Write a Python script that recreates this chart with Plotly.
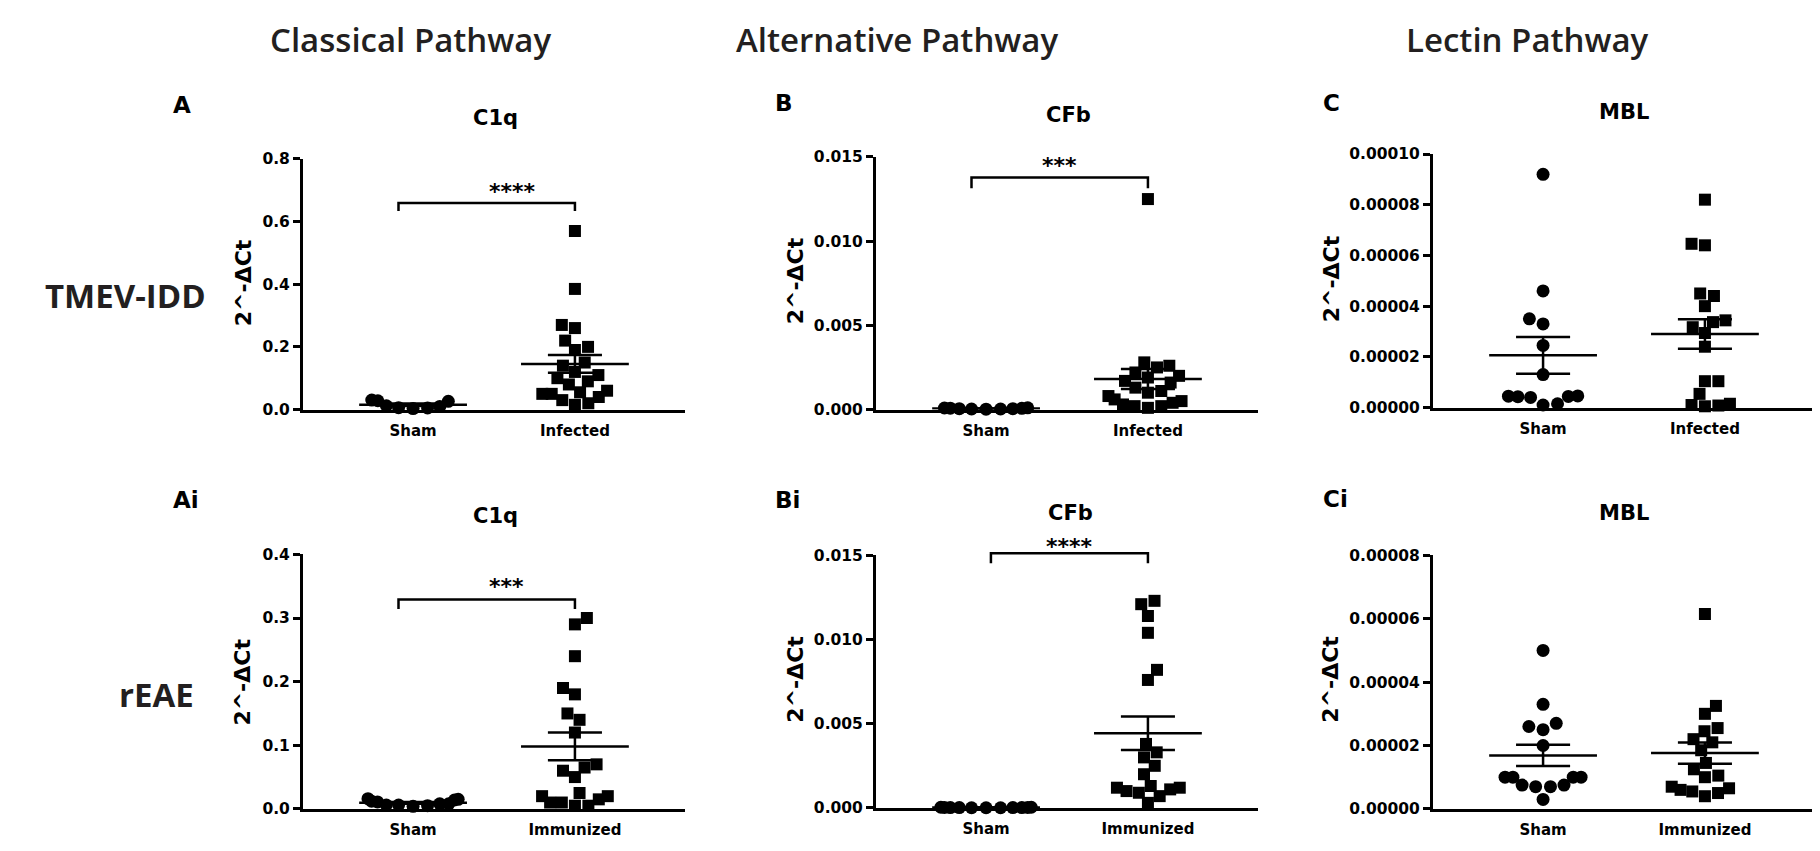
import numpy as np
import plotly.graph_objects as go

# values (2^-dCt)
groups_tmev = ["Sham", "Infected"]
groups_reae = ["Sham", "Immunized"]

c1q_tmev_sham = [0.030, 0.026, 0.012, 0.006, 0.003, 0.005, 0.010, 0.028]
c1q_tmev_inf = [0.57, 0.385, 0.27, 0.26, 0.22, 0.20, 0.19, 0.15, 0.14, 0.12, 0.11,
                0.10, 0.09, 0.08, 0.06, 0.055, 0.05, 0.05, 0.04, 0.03, 0.02, 0.015]

cfb_tmev_sham = [0.00010, 0.00008, 0.00005, 0.00003, 0.00002, 0.00003, 0.00005, 0.00007, 0.00009]
cfb_tmev_inf = [0.0125, 0.0028, 0.0026, 0.0025, 0.0022, 0.0020, 0.0019, 0.0017, 0.0016, 0.0013,
                0.0011, 0.0010, 0.0008, 0.0006, 0.0005, 0.0004, 0.0003, 0.0002, 0.0002, 0.0001]

mbl_tmev_sham = [9.2e-5, 4.6e-5, 3.5e-5, 3.3e-5, 2.45e-5, 1.3e-5, 4.5e-6, 4.3e-6, 4.0e-6,
                 4.6e-6, 4.4e-6, 1.5e-6, 1.0e-6]
mbl_tmev_inf = [8.2e-5, 6.46e-5, 6.4e-5, 4.5e-5, 4.4e-5, 4.0e-5, 3.44e-5, 3.37e-5, 3.17e-5,
                2.94e-5, 2.4e-5, 1.04e-5, 1.04e-5, 5.4e-6, 1.5e-6, 1.0e-6, 5e-7, 8e-7]

c1q_reae_sham = [0.016, 0.014, 0.011, 0.008, 0.006, 0.005, 0.004, 0.006, 0.008, 0.012, 0.015]
c1q_reae_imm = [0.30, 0.29, 0.24, 0.19, 0.18, 0.15, 0.14, 0.12, 0.07, 0.065, 0.06, 0.05,
                0.025, 0.02, 0.02, 0.015, 0.01, 0.01, 0.005, 0.005]

cfb_reae_sham = [0.00004, 0.00003, 0.00002, 0.00002, 0.00001, 0.00001, 0.00001, 0.00002,
                 0.00002, 0.00003, 0.00004]
cfb_reae_imm = [0.0123, 0.0121, 0.0114, 0.0104, 0.0082, 0.0076, 0.0038, 0.0033, 0.0030, 0.0025,
                0.0020, 0.0013, 0.0012, 0.0012, 0.0011, 0.0010, 0.0009, 0.0007, 0.0003]

mbl_reae_sham = [5.0e-5, 3.3e-5, 2.7e-5, 2.6e-5, 2.5e-5, 2.0e-5, 1.0e-5, 1.0e-5, 1.0e-5,
                 1.0e-5, 7.5e-6, 7.5e-6, 7.0e-6, 7.0e-6, 3.0e-6]
mbl_reae_imm = [6.15e-5, 3.25e-5, 3.0e-5, 2.55e-5, 2.45e-5, 2.2e-5, 2.1e-5, 1.85e-5, 1.45e-5,
                1.25e-5, 1.05e-5, 1.0e-5, 7.0e-6, 6.5e-6, 6.0e-6, 5.5e-6, 5.0e-6, 4.0e-6]

W, H = 1820, 851
XR = [0.32, 2.68]
PW = 382  # plot width px

# label, title, groups, sham, other, yticks, fmt, axis left px, top px, bottom px,
# bracket (height, tick end, left x, stars, star shift px)
panels = [
    ("A", "C1q", groups_tmev, c1q_tmev_sham, c1q_tmev_inf, [0, 0.2, 0.4, 0.6, 0.8], ".1f", 295, 145, 401,
     (0.659, 0.634, 0.91, "****", -3)),
    ("B", "CFb", groups_tmev, cfb_tmev_sham, cfb_tmev_inf, [0, 0.005, 0.010, 0.015], ".3f", 868, 143, 401,
     (0.01378, 0.01314, 0.91, "***", -2)),
    ("C", "MBL", groups_tmev, mbl_tmev_sham, mbl_tmev_inf, [0, 2e-5, 4e-5, 6e-5, 8e-5, 1e-4], ".5f", 1425, 140, 399,
     None),
    ("Ai", "C1q", groups_reae, c1q_reae_sham, c1q_reae_imm, [0, 0.1, 0.2, 0.3, 0.4], ".1f", 295, 549, 809,
     (0.329, 0.314, 0.91, "***", -1)),
    ("Bi", "CFb", groups_reae, cfb_reae_sham, cfb_reae_imm, [0, 0.005, 0.010, 0.015], ".3f", 868, 550, 808,
     (0.01512, 0.01453, 1.03, "****", -8)),
    ("Ci", "MBL", groups_reae, mbl_reae_sham, mbl_reae_imm, [0, 2e-5, 4e-5, 6e-5, 8e-5], ".5f", 1425, 550, 809,
     None),
]


def px_x(v):
    return v / W


def px_y(v):
    return 1 - v / H


def swarm(vals, ppu_y, ppu_x, diam, half):
    # beeswarm: each point takes the free spot closest to the centre,
    # then wide rows get squeezed into the column (like Prism does)
    vals = np.asarray(vals)
    order = np.argsort(vals, kind="stable")
    placed = []
    offs = np.zeros(len(vals))
    side = 1
    for i in order:
        y = vals[i] * ppu_y
        cands, bad = [0.0], []
        for (qx, qy) in placed:
            dy = abs(qy - y)
            if dy < diam:
                dx = np.sqrt(diam ** 2 - dy ** 2)
                bad.append((qx - dx, qx + dx))
                cands += [qx - dx, qx + dx]
        ok = [c for c in cands if all(not (lo + 1e-6 < c < hi - 1e-6) for lo, hi in bad)]
        best = min(abs(c) for c in ok)
        ch = [c for c in ok if abs(abs(c) - best) < 1e-6]
        if len(ch) > 1:
            x = max(ch) if side > 0 else min(ch)
            side = -side
        else:
            x = ch[0]
        placed.append((x, y))
        offs[i] = half * np.tanh(x / half) / ppu_x
    return offs


fig = go.Figure()
bold = dict(family="DejaVu Sans", color="black", weight="bold")
annots, shapes = [], []
ppu_x = PW / (XR[1] - XR[0])

for k, (lab, title, grps, sham, other, yt, fmt, left, top, bot, br) in enumerate(panels, start=1):
    xa = "x" if k == 1 else "x%d" % k
    ya = "y" if k == 1 else "y%d" % k
    ymax = yt[-1]
    ppu_y = (bot - top) / ymax

    for g, (vals, sym, size) in enumerate([(sham, "circle", 13), (other, "square", 12)], start=1):
        vals = np.asarray(vals)
        xs = g + swarm(vals, ppu_y, ppu_x, size * 1.15, 50)
        fig.add_trace(go.Scatter(x=xs, y=vals, mode="markers", xaxis=xa, yaxis=ya, cliponaxis=False,
                                 marker=dict(symbol=sym, size=size, color="black", line_width=0)))
        m = vals.mean()
        s = vals.std(ddof=1) / np.sqrt(len(vals))
        ex = [g - 0.333, g + 0.333, None, g - 0.167, g + 0.167, None, g - 0.167, g + 0.167, None, g, g]
        ey = [m, m, None, m + s, m + s, None, m - s, m - s, None, m - s, m + s]
        fig.add_trace(go.Scatter(x=ex, y=ey, mode="lines", xaxis=xa, yaxis=ya, cliponaxis=False,
                                 line=dict(color="black", width=2.5)))

    if br:
        # bracket drawn in paper space so it may sit above the axis top
        yb, ytk, x0, stars, sh = br
        bx0 = left + (x0 - XR[0]) * ppu_x
        bx1 = left + (2 - XR[0]) * ppu_x
        by = bot - yb * ppu_y
        byt = bot - ytk * ppu_y
        path = "M %f %f L %f %f L %f %f L %f %f" % (px_x(bx0), px_y(byt), px_x(bx0), px_y(by),
                                                    px_x(bx1), px_y(by), px_x(bx1), px_y(byt))
        shapes.append(dict(type="path", xref="paper", yref="paper", path=path,
                           line=dict(color="black", width=2.5)))
        annots.append(dict(x=px_x((bx0 + bx1) / 2), y=px_y(by), xref="paper", yref="paper", text=stars,
                           showarrow=False, yanchor="bottom", yshift=sh, font=dict(bold, size=22)))

    fig.update_layout(**{
        ("xaxis" if k == 1 else "xaxis%d" % k): dict(
            domain=[px_x(left), px_x(left + PW)], anchor=ya, range=XR, tickvals=[1, 2], ticktext=grps,
            ticks="", showline=True, linewidth=3, linecolor="black", showgrid=False, zeroline=False,
            ticklabelstandoff=5, tickfont=dict(bold, size=15)),
        ("yaxis" if k == 1 else "yaxis%d" % k): dict(
            domain=[px_y(bot), px_y(top)], anchor=xa, range=[0, ymax], tickvals=yt, tickformat=fmt,
            ticks="outside", ticklen=7, tickwidth=2.5, tickcolor="black", showline=True, linewidth=3,
            linecolor="black", showgrid=False, zeroline=False, tickfont=dict(bold, size=15.5)),
    })

# panel letters, titles and y-axis titles (pixel positions)
letters = [("A", 163, 90), ("B", 765, 88), ("C", 1313, 88), ("Ai", 163, 493), ("Bi", 765, 493), ("Ci", 1313, 492)]
for t, x, y in letters:
    annots.append(dict(x=px_x(x), y=px_y(y), xref="paper", yref="paper", text=t, showarrow=False,
                       xanchor="left", yanchor="middle", font=dict(bold, size=23)))

titles = [("C1q", 487, 103), ("CFb", 1060, 100), ("MBL", 1616, 97),
          ("C1q", 487, 510), ("CFb", 1062, 507), ("MBL", 1616, 507)]
for t, x, y in titles:
    annots.append(dict(x=px_x(x), y=px_y(y), xref="paper", yref="paper", text=t, showarrow=False,
                       xanchor="center", yanchor="middle", font=dict(bold, size=21)))

ytitles = [(235, 272), (787, 270), (1323, 268), (235, 680), (788, 677), (1323, 677)]
for x, y in ytitles:
    annots.append(dict(x=px_x(x), y=px_y(y), xref="paper", yref="paper", text="2^-ΔCt", showarrow=False,
                       textangle=-90, xanchor="center", yanchor="middle", font=dict(bold, size=22)))

head = dict(family="Open Sans", color="#231f20", weight=600, size=33)
headers = [("Classical Pathway", 402, 23), ("Alternative Pathway", 889, 23), ("Lectin Pathway", 1519, 23)]
for t, x, y in headers:
    annots.append(dict(x=px_x(x), y=px_y(y), xref="paper", yref="paper", text=t, showarrow=False,
                       xanchor="center", yanchor="middle", font=head))

rows = [("TMEV-IDD", 200, 285), ("rEAE", 188, 692)]
for t, x, y in rows:
    annots.append(dict(x=px_x(x), y=px_y(y), xref="paper", yref="paper", text=t, showarrow=False,
                       xanchor="right", yanchor="middle", font=dict(head, weight=700)))

fig.update_layout(width=W, height=H, margin=dict(l=0, r=0, t=0, b=0), showlegend=False,
                  paper_bgcolor="white", plot_bgcolor="white", annotations=annots, shapes=shapes)

fig.write_html("out.html")
